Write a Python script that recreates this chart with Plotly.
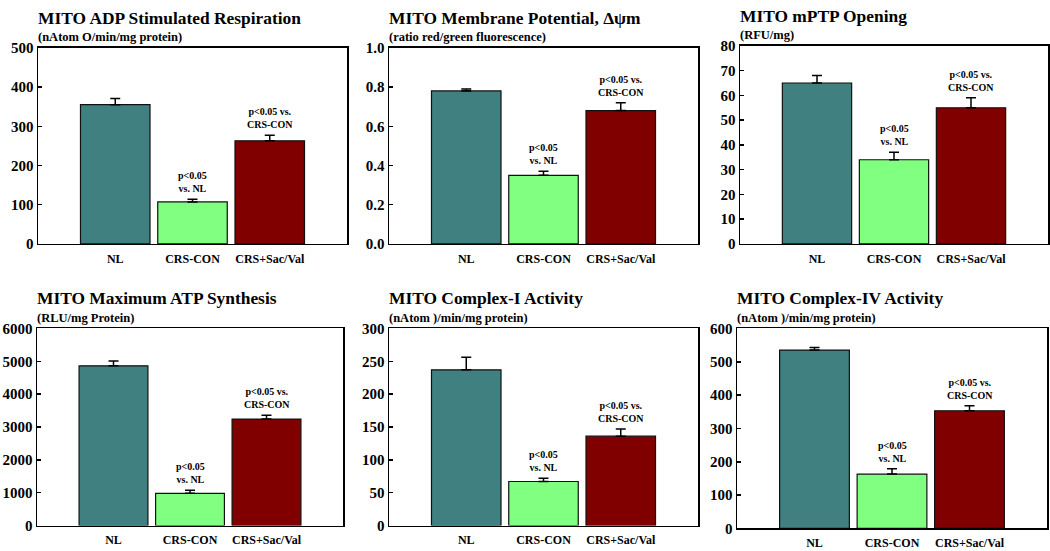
import plotly.graph_objects as go

W, H = 1050, 551

categories = ["NL", "CRS-CON", "CRS+Sac/Val"]
bar_colors = ["#408080", "#80FF80", "#800000"]

titles = [
    "MITO ADP Stimulated Respiration",
    "MITO Membrane Potential, \u0394\u03c8m",
    "MITO mPTP Opening",
    "MITO Maximum ATP Synthesis",
    "MITO Complex-I Activity",
    "MITO Complex-IV Activity",
]
subtitles = [
    "(nAtom O/min/mg protein)",
    "(ratio red/green fluorescence)",
    "(RFU/mg)",
    "(RLU/mg Protein)",
    "(nAtom )/min/mg protein)",
    "(nAtom )/min/mg protein)",
]

adp_resp = [355, 107, 263]
adp_resp_sem = [16, 7, 14]
membrane_pot = [0.78, 0.35, 0.68]
membrane_pot_sem = [0.01, 0.02, 0.04]
mptp = [65, 34, 55]
mptp_sem = [3, 3, 4]
atp_synth = [4860, 980, 3240]
atp_synth_sem = [150, 90, 115]
complex1 = [237, 67, 136]
complex1_sem = [19, 5, 11]
complex4 = [535, 163, 353]
complex4_sem = [8, 16, 15]

values = [adp_resp, membrane_pot, mptp, atp_synth, complex1, complex4]
sems = [adp_resp_sem, membrane_pot_sem, mptp_sem, atp_synth_sem, complex1_sem, complex4_sem]

y_max = [500, 1.0, 80, 6000, 300, 600]
y_dtick = [100, 0.2, 10, 1000, 50, 100]
y_format = ["d", ".1f", "d", "d", "d", "d"]

annot_texts = ["", "p<0.05<br>vs. NL", "p<0.05 vs.<br>CRS-CON"]

# panel boxes in window pixels (left, right, top, bottom)
boxes = [
    (38, 347, 41, 243),
    (389, 698, 41, 243),
    (740, 1048, 39, 243),
    (37, 343, 330, 533),
    (389, 698, 330, 533),
    (737, 1047, 330, 536),
]


def px(xp):
    return xp / W


def py(yp):
    return 1 - yp / H


FONT = "Liberation Serif"

fig = go.Figure()
layout = {}
annotations = []
xpos = [0, 1, 2]

for i in range(6):
    l, r, t, b = boxes[i]
    n = "" if i == 0 else str(i + 1)
    xa, ya = "x" + n, "y" + n
    fig.add_trace(go.Bar(
        x=xpos, y=values[i],
        xaxis=xa, yaxis=ya,
        width=0.9,
        marker=dict(color=bar_colors, line=dict(color="#111111", width=1.2)),
        error_y=dict(type="data", symmetric=False, array=sems[i],
                     arrayminus=[0, 0, 0], color="black", thickness=1.5, width=5),
        showlegend=False,
        hoverinfo="skip",
    ))
    layout["xaxis" + n] = dict(
        domain=[px(l), px(r)], anchor=ya,
        range=[-1, 3], tickvals=xpos, ticktext=["<b>%s</b>" % c for c in categories],
        showline=True, mirror=True, linecolor="black", linewidth=1.5,
        ticks="", showgrid=False, zeroline=False,
        ticklabelstandoff=3,
        tickfont=dict(family=FONT, size=12, color="black"),
        fixedrange=True,
    )
    layout["yaxis" + n] = dict(
        domain=[py(b), py(t)], anchor=xa,
        range=[0, y_max[i]], dtick=y_dtick[i], tickformat=y_format[i],
        showline=True, mirror=True, linecolor="black", linewidth=1.5,
        ticks="inside", ticklen=4, tickwidth=1.5, tickcolor="black",
        showgrid=False, zeroline=False,
        tickfont=dict(family=FONT, size=15, color="black", weight="bold"),
        fixedrange=True,
    )
    annotations.append(dict(
        text="<b>%s</b>" % titles[i], xref="paper", yref="paper",
        x=px(l - 2), y=py(t - 31), xanchor="left", yanchor="middle",
        showarrow=False,
        font=dict(family=FONT, size=17.4, color="black"),
    ))
    annotations.append(dict(
        text="<b>%s</b>" % subtitles[i], xref="paper", yref="paper",
        x=px(l - 2), y=py(t - 11), xanchor="left", yanchor="middle",
        showarrow=False,
        font=dict(family=FONT, size=12.5, color="black"),
    ))
    for j in (1, 2):
        annotations.append(dict(
            text="<b>%s</b>" % annot_texts[j], xref=xa, yref=ya,
            x=xpos[j], y=values[i][j] + sems[i][j],
            xanchor="center", yanchor="bottom", yshift=3,
            showarrow=False,
            font=dict(family=FONT, size=10, color="black"),
        ))

fig.update_layout(
    width=W, height=H,
    margin=dict(l=0, r=0, t=0, b=0),
    paper_bgcolor="white", plot_bgcolor="white",
    bargap=0.1,
    hovermode=False,
    annotations=annotations,
    **layout,
)

fig.write_html(
    "out.html",
    config={"displayModeBar": False, "staticPlot": True},
    post_script="document.body.style.margin='0';document.body.style.overflow='hidden';",
)
